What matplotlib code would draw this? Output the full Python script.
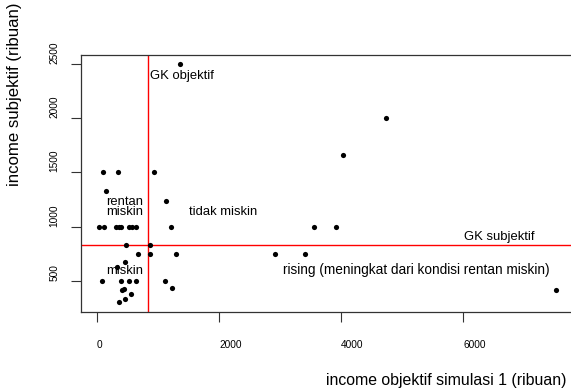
import matplotlib
matplotlib.use("Agg")
import matplotlib.pyplot as plt

plt.rcParams['font.family'] = ['Liberation Sans', 'DejaVu Sans']

# income objektif simulasi 1 (ribuan) vs income subjektif (ribuan)
inc_obj = [1360, 100, 350, 940, 150, 1130, 1220,
           40, 110, 310, 360, 400, 520, 570, 640,
           480, 870, 680, 870, 1300, 2920, 3410,
           460, 320, 90, 400, 530, 640, 1120, 1235,
           410, 450, 560, 460, 365,
           4740, 4030, 3560, 3920, 7530]
inc_subj = [2500, 1500, 1500, 1500, 1330, 1240, 1000,
            1000, 1000, 1000, 1000, 1000, 1000, 1000, 1000,
            830, 830, 750, 750, 750, 750, 750,
            670, 625, 500, 500, 500, 500, 500, 430,
            410, 420, 375, 335, 305,
            2000, 1660, 1000, 1000, 410]

gk_obj = 830
gk_subj = 830

xticks = [0, 2000, 4000, 6000]
yticks = [500, 1000, 1500, 2000, 2500]

W, H = 571, 392
fig = plt.figure(figsize=(W / 100, H / 100), dpi=100)
ax = fig.add_axes([81 / W, 1 - 312 / H, (575 - 81) / W, (312 - 55) / H])

ax.scatter(inc_obj, inc_subj, s=14, color='black', zorder=3, linewidths=0)
ax.axvline(gk_obj, color='red', lw=1.0)
ax.axhline(gk_subj, color='red', lw=1.0)

ax.set_xlim(-262, 7835)
ax.set_ylim(211, 2583)
ax.set_xticks(xticks)
ax.set_yticks(yticks)
ax.set_xticklabels([str(v) for v in xticks], ha='left')
ax.set_yticklabels([str(v) for v in yticks], rotation=90, va='bottom')
ax.tick_params(axis='both', direction='out', length=7, width=0.8,
               labelsize=7.3, color='#333333')
ax.tick_params(axis='x', pad=13)
ax.tick_params(axis='y', pad=8.6)
for sp in ax.spines.values():
    sp.set_linewidth(0.9)
    sp.set_color('#333333')

fs = 9.4
ax.text(870, 2391, 'GK objektif', fontsize=fs, ha='left', va='center')
ax.text(2065, 1137, 'tidak miskin', fontsize=fs, ha='center', va='center')
ax.text(150, 1177, 'rentan\nmiskin', fontsize=fs, ha='left', va='center',
        linespacing=0.8)
ax.text(150, 589, 'miskin', fontsize=fs, ha='left', va='center')
ax.text(6589, 906, 'GK subjektif', fontsize=fs, ha='center', va='center')
ax.text(5240, 599, 'rising (meningkat dari kondisi rentan miskin)',
        fontsize=9.8, ha='center', va='center')

fig.text(446.7 / W, 1 - 380 / H, 'income objektif simulasi 1 (ribuan)',
         fontsize=11.4, ha='center', va='center')
fig.text(14.5 / W, 1 - 94 / H, 'income subjektif (ribuan)',
         fontsize=12.1, ha='center', va='center', rotation=90)

fig.savefig('out.png', dpi=100)
